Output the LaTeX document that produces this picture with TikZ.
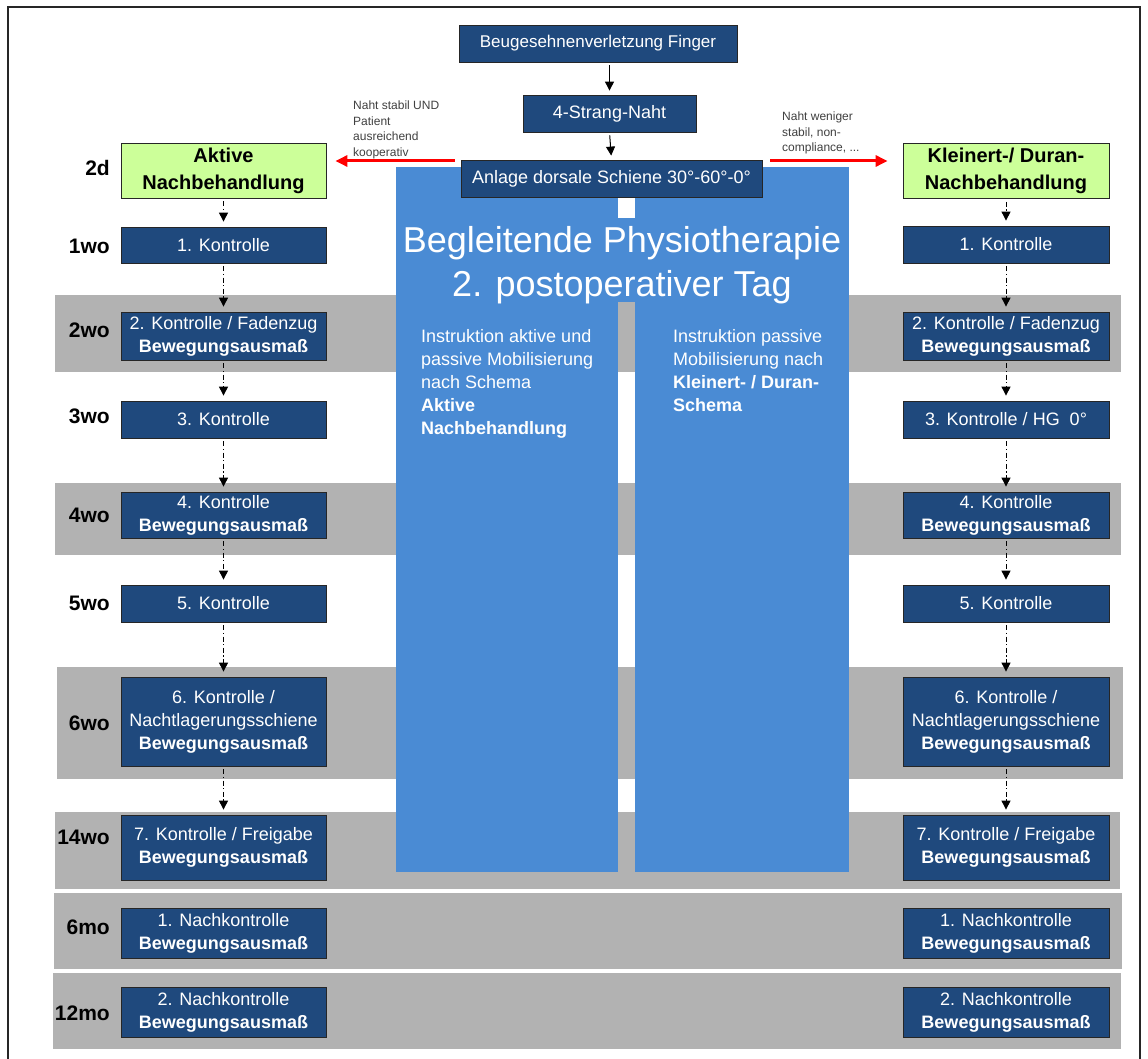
\documentclass[tikz,border=0pt]{standalone}
\usepackage{fontspec}
\setmainfont{Liberation Sans}
\usetikzlibrary{arrows.meta}
\definecolor{navy}{RGB}{31,73,125}
\definecolor{physio}{RGB}{74,139,212}
\definecolor{lgreen}{RGB}{204,255,153}
\definecolor{bandgray}{RGB}{178,178,178}
\definecolor{lbl}{RGB}{64,64,64}
\begin{document}
\begin{tikzpicture}[x=1pt,y=-1pt,
  box/.style={draw=black!85, line width=0.8pt, fill=navy, text=white, font=\fontsize{18}{23}\selectfont, align=center, inner sep=0pt, minimum width=205pt},
  topbox/.style={box, minimum width=0pt},
  gbox/.style={draw=black!85, line width=0.8pt, fill=lgreen, text=black, font=\bfseries\fontsize{20}{27}\selectfont, align=center, inner sep=0pt, minimum width=205pt, minimum height=55pt},
  wk/.style={anchor=east, inner sep=0pt, font=\bfseries\fontsize{21}{25}\selectfont},
  flow/.style={draw=black, line width=1pt, dash pattern=on 5pt off 2.5pt on 1.2pt off 2.5pt, -{Triangle[width=9pt,length=9pt]}, shorten <=3pt, shorten >=5pt},
  solidflow/.style={draw=black, line width=1pt, -{Triangle[width=9pt,length=9pt]}, shorten <=3pt, shorten >=4pt},
  redarrow/.style={draw=red, line width=3pt, -{Triangle[width=11pt,length=12pt]}},
  cond/.style={text=lbl, font=\fontsize{12}{15.5}\selectfont, align=left, inner sep=0pt, anchor=north west},
  paneltext/.style={text=white, font=\fontsize{18}{23}\selectfont, align=left, inner sep=0pt, anchor=north west},
]
\useasboundingbox (0,0) rectangle (1148,1059);
\fill[white] (0,0) rectangle (1148,1059);
\draw[line width=1.6pt, black!85] (8,7) rectangle (1140,1075);

% grey time bands
\fill[bandgray] (55,295) rectangle (1121,372);
\fill[bandgray] (55,483) rectangle (1121,555);
\fill[bandgray] (57,667) rectangle (1123,779);
\fill[bandgray] (55,812) rectangle (1120,889);
\fill[bandgray] (54,893) rectangle (1122,969);
\fill[bandgray] (53,973) rectangle (1121,1049);

% physiotherapy panel
\fill[physio] (396,167) rectangle (849,302);
\fill[physio] (396,302) rectangle (618,872);
\fill[physio] (635,302) rectangle (849,872);
\fill[white] (618,197) rectangle (635,218);
\node[text=white, font=\fontsize{36}{44}\selectfont, align=center, anchor=north, inner sep=0pt] (title) at (622,226) {Begleitende Physiotherapie\\2. postoperativer Tag};
\node[paneltext] (pl) at (421,329) {Instruktion aktive und\\passive Mobilisierung\\nach Schema\\\textbf{Aktive}\\\textbf{Nachbehandlung}};
\node[paneltext] (pr) at (673,329) {Instruktion passive\\Mobilisierung nach\\\textbf{Kleinert- / Duran-}\\\textbf{Schema}};

% top chain
\node[topbox, minimum width=278pt, minimum height=37pt, font=\fontsize{17}{21}\selectfont] (top1) at (598,43.5) {Beugesehnenverletzung Finger};
\node[topbox, minimum width=173pt, minimum height=37pt] (strand) at (609.5,113.5) {4-Strang-Naht};
\node[topbox, minimum width=301pt, minimum height=37pt] (anl) at (611.5,178.5) {Anlage dorsale Schiene 30°-60°-0°};
\draw[solidflow] (top1.south -| strand.north) -- (strand.north);
\draw[solidflow] (strand.south) -- (anl.north);

% left column
\node[gbox] (L0) at (223.5,170.5) {Aktive\\Nachbehandlung};
\node[box, minimum height=36pt] (L1) at (223.5,245) {1. Kontrolle};
\node[box, minimum height=48pt] (L2) at (223.5,336) {2. Kontrolle / Fadenzug\\\textbf{Bewegungsausmaß}};
\node[box, minimum height=37pt] (L3) at (223.5,419.5) {3. Kontrolle};
\node[box, minimum height=46pt] (L4) at (223.5,515) {4. Kontrolle\\\textbf{Bewegungsausmaß}};
\node[box, minimum height=37pt] (L5) at (223.5,603.5) {5. Kontrolle};
\node[box, minimum height=89pt] (L6) at (223.5,721.5) {6. Kontrolle /\\Nachtlagerungsschiene\\\textbf{Bewegungsausmaß}};
\node[box, minimum height=65pt] (L7) at (223.5,847.5) {7. Kontrolle / Freigabe\\\textbf{Bewegungsausmaß}};
\node[box, minimum height=50pt] (L8) at (223.5,933) {1. Nachkontrolle\\\textbf{Bewegungsausmaß}};
\node[box, minimum height=50pt] (L9) at (223.5,1012) {2. Nachkontrolle\\\textbf{Bewegungsausmaß}};

% right column
\node[gbox, minimum width=206pt] (R0) at (1006,171) {Kleinert-/ Duran-\\Nachbehandlung};
\node[box, minimum width=206pt, minimum height=37pt] (R1) at (1006,244.5) {1. Kontrolle};
\node[box, minimum width=206pt, minimum height=48pt] (R2) at (1006,336) {2. Kontrolle / Fadenzug\\\textbf{Bewegungsausmaß}};
\node[box, minimum width=206pt, minimum height=37pt] (R3) at (1006,419.5) {3. Kontrolle / HG\ \ 0°};
\node[box, minimum width=206pt, minimum height=46pt] (R4) at (1006,515) {4. Kontrolle\\\textbf{Bewegungsausmaß}};
\node[box, minimum width=206pt, minimum height=37pt] (R5) at (1006,603.5) {5. Kontrolle};
\node[box, minimum width=206pt, minimum height=89pt] (R6) at (1006,721.5) {6. Kontrolle /\\Nachtlagerungsschiene\\\textbf{Bewegungsausmaß}};
\node[box, minimum width=206pt, minimum height=65pt] (R7) at (1006,847.5) {7. Kontrolle / Freigabe\\\textbf{Bewegungsausmaß}};
\node[box, minimum width=206pt, minimum height=50pt] (R8) at (1006,933) {1. Nachkontrolle\\\textbf{Bewegungsausmaß}};
\node[box, minimum width=206pt, minimum height=50pt] (R9) at (1006,1012) {2. Nachkontrolle\\\textbf{Bewegungsausmaß}};

% time labels
\node[wk] (t0) at (110,168) {2d};
\node[wk] (t1) at (110,246) {1wo};
\node[wk] (t2) at (110,330) {2wo};
\node[wk] (t3) at (110,416) {3wo};
\node[wk] (t4) at (110,515) {4wo};
\node[wk] (t5) at (110,603) {5wo};
\node[wk] (t6) at (110,723) {6wo};
\node[wk] (t7) at (110,837) {14wo};
\node[wk] (t8) at (110,927) {6mo};
\node[wk] (t9) at (110,1013) {12mo};

% flows
\foreach \a/\b in {0/1,1/2,2/3,3/4,4/5,5/6,6/7} {
  \draw[flow] (L\a.south) -- (L\b.north);
  \draw[flow] (R\a.south) -- (R\b.north);
}

% red branch arrows
\coordinate (lr) at ([yshift=17.5pt]anl.west);
\coordinate (rr) at ([yshift=17.5pt]anl.east);
\draw[redarrow, shorten <=6pt, shorten >=9pt] (lr) -- (lr -| L0.east);
\draw[redarrow, shorten <=8pt, shorten >=15pt] (rr) -- (rr -| R0.west);
\node[cond] (cl) at (353,101) {Naht stabil UND\\Patient\\ausreichend\\kooperativ};
\node[cond] (cr) at (782,112) {Naht weniger\\stabil, non-\\compliance, ...};
\end{tikzpicture}
\end{document}
